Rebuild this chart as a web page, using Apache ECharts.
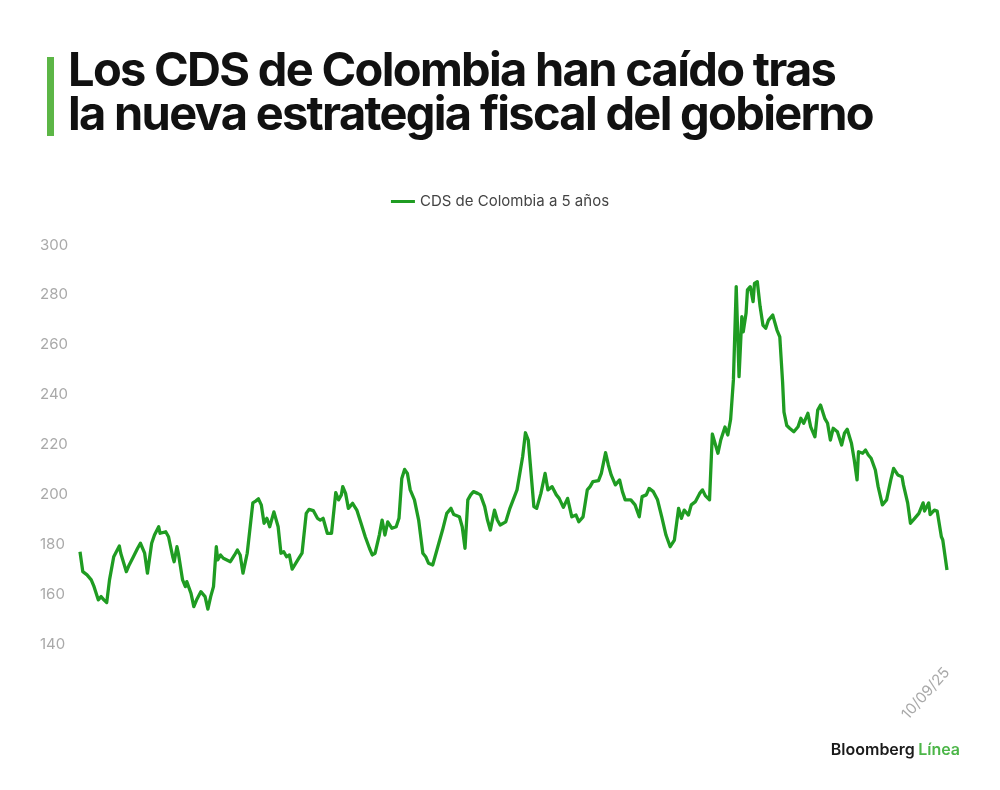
<!DOCTYPE html>
<html>
<head>
<meta charset="utf-8">
<script src="https://cdn.jsdelivr.net/npm/echarts@6/dist/echarts.min.js"></script>
<style>
    html, body { margin: 0; padding: 0; background: #ffffff; }
    #wrap { position: relative; width: 1000px; height: 790px; }
    #chart { position: absolute; left: 0; top: 0; width: 1000px; height: 790px; }
    #bar { position: absolute; left: 47px; top: 57px; width: 7px; height: 79px; background: #5cb646; }
    #title {
        position: absolute; left: 68px; top: 47px;
        font-family: "Inter", "Roboto", sans-serif; font-weight: 700;
        font-size: 47px; line-height: 44px; letter-spacing: -1.7px; color: #111111;
    }
</style>
</head>
<body>
<div id="wrap">
    <div id="chart"></div>
    <div id="bar"></div>
    <div id="title">Los CDS de Colombia han caído tras<br>la nueva estrategia fiscal del gobierno</div>
</div>
<script>
    const dayOffsets = [
        0, 2, 5, 8, 10, 13, 15, 17, 19, 21, 24, 25, 28, 29, 33, 35, 38, 41, 43, 46,
        48, 51, 53, 56, 57, 61, 63, 66, 67, 69, 70, 73, 75, 76, 79, 81, 83, 86, 89, 91,
        93, 95, 97, 98, 100, 102, 107, 110, 112, 114, 116, 119, 123, 125, 127, 129, 131, 133, 135, 138,
        141, 143, 145, 147, 149, 151, 155, 158, 161, 163, 166, 169, 171, 173, 176, 179, 182, 184, 186, 187,
        189, 191, 194, 197, 200, 203, 206, 208, 210, 213, 215, 217, 219, 222, 225, 227, 229, 231, 233, 235,
        238, 241, 244, 246, 248, 251, 254, 258, 261, 264, 266, 270, 272, 274, 276, 278, 280, 283, 285, 288,
        290, 292, 295, 297, 299, 303, 306, 311, 315, 317, 319, 323, 325, 328, 331, 333, 336, 339, 341, 344,
        347, 350, 353, 355, 358, 361, 363, 365, 369, 371, 374, 376, 378, 381, 384, 386, 388, 392, 395, 398,
        400, 403, 405, 408, 411, 414, 417, 420, 423, 426, 428, 430, 433, 435, 438, 441, 443, 445, 448, 450,
        454, 456, 459, 461, 463, 465, 467, 469, 471, 472, 474, 475, 477, 479, 480, 482, 484, 486, 488, 490,
        493, 496, 498, 500, 501, 503, 505, 508, 511, 513, 515, 518, 520, 523, 525, 527, 530, 532, 534, 536,
        539, 542, 544, 546, 549, 551, 553, 554, 557, 559, 561, 563, 566, 568, 571, 574, 577, 579, 582, 585,
        586, 589, 591, 594, 597, 600, 601, 604, 605, 608, 610, 613, 614, 617
    ];

    // 5-year CDS spread, basis points
    const cdsValues = [
        177, 169, 167.7, 165.7, 163, 157.7, 159, 157.7, 156.6, 165.7, 175, 175.7, 179.3, 176.4, 169, 171.7, 175, 178.4, 180.4, 176.4,
        168.4, 180.4, 183.7, 187, 184.4, 185, 183, 175, 173, 179, 176.4, 165.7, 163, 165, 160.3, 155, 157.7, 161, 159, 154,
        159, 163, 179, 173.7, 175.7, 174.4, 173, 175.7, 177.7, 175.7, 168.4, 176.4, 196.6, 197.3, 198.2, 195.8, 188.4, 190.4, 187, 193,
        187, 176.4, 177, 175, 175.7, 170, 173.7, 176.4, 192.4, 194, 193.5, 190.4, 189.7, 190.4, 184.4, 184.4, 200.7, 197.8, 199.8, 203.1,
        200.4, 194.4, 196.4, 193.7, 188.4, 183, 178.4, 175.7, 176.4, 183.7, 189.7, 183.7, 189, 186.4, 187, 190.4, 206.4, 210, 208.4, 201.8,
        197.8, 189.7, 176.4, 175, 172.4, 171.7, 177.7, 185.7, 192.4, 194.4, 191.9, 191, 187, 178.4, 197.8, 199.8, 201.1, 200.4, 199.8, 195.1,
        189.7, 185.7, 193.7, 189.7, 187.7, 189, 194.5, 201.8, 215.1, 224.7, 221.8, 195.1, 194.4, 200.4, 208.4, 201.8, 203.1, 199.8, 198.4, 194.8,
        198.4, 191, 191.7, 189, 191, 201.8, 203.1, 205.1, 205.5, 208.4, 216.7, 211.8, 207.8, 203.8, 205.8, 201.1, 197.8, 197.8, 195.8, 191,
        199.1, 199.8, 202.4, 201.1, 197.8, 191, 183.7, 179, 181.7, 194.4, 190.4, 193.7, 191.7, 195.8, 197.1, 200.4, 201.8, 199.5, 197.8, 224.2,
        216.5, 221.8, 227, 223.8, 230, 245.9, 283.3, 247.2, 271.3, 265.2, 272.6, 282, 283.3, 277.3, 284.6, 285.3, 275.3, 267.9, 266.6, 269.9,
        271.9, 265.9, 263.2, 245, 233, 227.6, 226.5, 225.1, 227.1, 230.5, 228.5, 232.5, 227.1, 223.1, 233.8, 235.8, 230.5, 228.5, 221.8, 226.5,
        225.1, 219.8, 224.5, 226.1, 220.5, 213.8, 205.8, 217.1, 216.5, 217.8, 215.8, 214.5, 209.8, 203.1, 195.8, 197.8, 205.8, 210.4, 207.8, 207.1,
        203.8, 196.6, 188.4, 190.4, 192.4, 196.6, 193.3, 196.6, 191.9, 193.7, 193.3, 183, 181.7, 169.7
    ];

    const yTicks = { min: 140, max: 300, step: 20 };
    const lastDateLabel = "10/09/25";
    const seriesName = "CDS de Colombia a 5 años";

    const lineGreen = "#1f9c22";
    const axisGrey = "#a9a9a9";

    const seriesData = dayOffsets.map((d, i) => [d, cdsValues[i]]);
    const lastDay = dayOffsets[dayOffsets.length - 1];

    const chart = echarts.init(document.getElementById("chart"), null, { renderer: "canvas" });

    chart.setOption({
        backgroundColor: "#ffffff",
        animation: false,
        legend: {
            top: 189,
            left: "center",
            itemWidth: 24,
            itemHeight: 3,
            itemGap: 10,
            icon: "rect",
            textStyle: { fontFamily: "Inter", fontSize: 15, color: "#444444" },
            data: [{ name: seriesName, itemStyle: { color: lineGreen } }]
        },
        grid: { left: 80, right: 53, top: 245, bottom: 146, containLabel: false },
        xAxis: {
            type: "value",
            min: 0,
            max: lastDay,
            interval: lastDay,
            axisLine: { show: false },
            axisTick: { show: false },
            splitLine: { show: false },
            axisLabel: {
                showMinLabel: false,
                showMaxLabel: true,
                rotate: 48,
                margin: 26,
                color: axisGrey,
                fontFamily: "Inter",
                fontSize: 15,
                formatter: v => (v === lastDay ? lastDateLabel : "")
            }
        },
        yAxis: {
            type: "value",
            min: yTicks.min,
            max: yTicks.max,
            interval: yTicks.step,
            axisLine: { show: false },
            axisTick: { show: false },
            splitLine: { show: false },
            axisLabel: {
                align: "left",
                margin: 40,
                color: axisGrey,
                fontFamily: "Inter",
                fontSize: 15
            }
        },
        series: [{
            name: seriesName,
            type: "line",
            data: seriesData,
            showSymbol: false,
            symbol: "none",
            lineStyle: { color: lineGreen, width: 3.3, join: "round" },
            itemStyle: { color: lineGreen }
        }],
        graphic: [{
            type: "text",
            right: 40,
            bottom: 32,
            style: {
                text: "{a|Bloomberg} {b|Línea}",
                rich: {
                    a: { fontFamily: "Inter", fontWeight: 600, fontSize: 16, fill: "#1a1a1a" },
                    b: { fontFamily: "Inter", fontWeight: 600, fontSize: 16, fill: "#4cb648" }
                }
            }
        }]
    });
</script>
</body>
</html>
